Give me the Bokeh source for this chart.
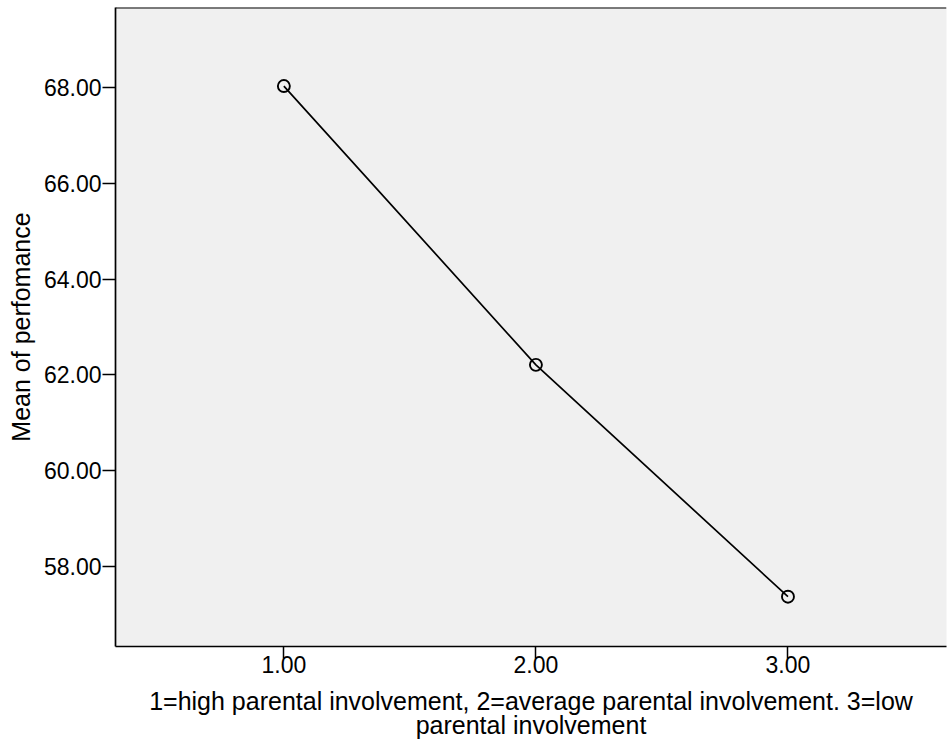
from bokeh.plotting import figure
from bokeh.models import FixedTicker, PrintfTickFormatter, Range1d, Span
from bokeh.embed import file_html
from bokeh.resources import INLINE

groups = [1.0, 2.0, 3.0]
mean_perf = [68.03, 62.21, 57.37]
y_ticks = [58, 60, 62, 64, 66, 68]
x_ticks = [1, 2, 3]

FONT = "Liberation Sans"

p = figure(width=948, height=746, output_backend="svg", toolbar_location=None,
           x_range=Range1d(0.332, 3.629), y_range=Range1d(56.33, 69.67),
           min_border_left=115, min_border_right=2, min_border_top=7, min_border_bottom=100)
p.background_fill_color = "#f0f0f0"
p.border_fill_color = "white"
p.outline_line_color = None
p.grid.visible = False

p.line(groups, mean_perf, line_color="black", line_width=1.7)
p.scatter(groups, mean_perf, size=12, fill_alpha=0, line_color="black", line_width=1.9)

top = Span(location=69.67, dimension="width", line_color="black", line_width=2)
p.add_layout(top)

for ax in (p.xaxis[0], p.yaxis[0]):
    ax.axis_line_color = "black"
    ax.axis_line_width = 1.7
    ax.major_tick_line_color = "black"
    ax.major_tick_line_width = 1.5
    ax.major_tick_in = 0
    ax.minor_tick_line_color = None
    ax.major_label_text_font = FONT
    ax.major_label_text_font_size = "23px"
    ax.major_label_text_color = "black"
    ax.axis_label_text_font = FONT
    ax.axis_label_text_font_size = "25px"
    ax.axis_label_text_font_style = "normal"
    ax.axis_label_text_color = "black"
    ax.axis_label_text_line_height = 0.88
    ax.formatter = PrintfTickFormatter(format="%.2f")

p.xaxis.ticker = FixedTicker(ticks=x_ticks)
p.yaxis.ticker = FixedTicker(ticks=y_ticks)
p.xaxis.major_tick_out = 12
p.yaxis.major_tick_out = 13
p.xaxis.major_label_standoff = -3
p.yaxis.major_label_standoff = 1
p.xaxis.axis_label = "1=high parental involvement, 2=average parental involvement. 3=low\nparental involvement"
p.yaxis.axis_label = "Mean of perfomance"
p.xaxis.axis_label_standoff = 11
p.yaxis.axis_label_standoff = 6

open("out.html", "w").write(file_html(p, INLINE))
